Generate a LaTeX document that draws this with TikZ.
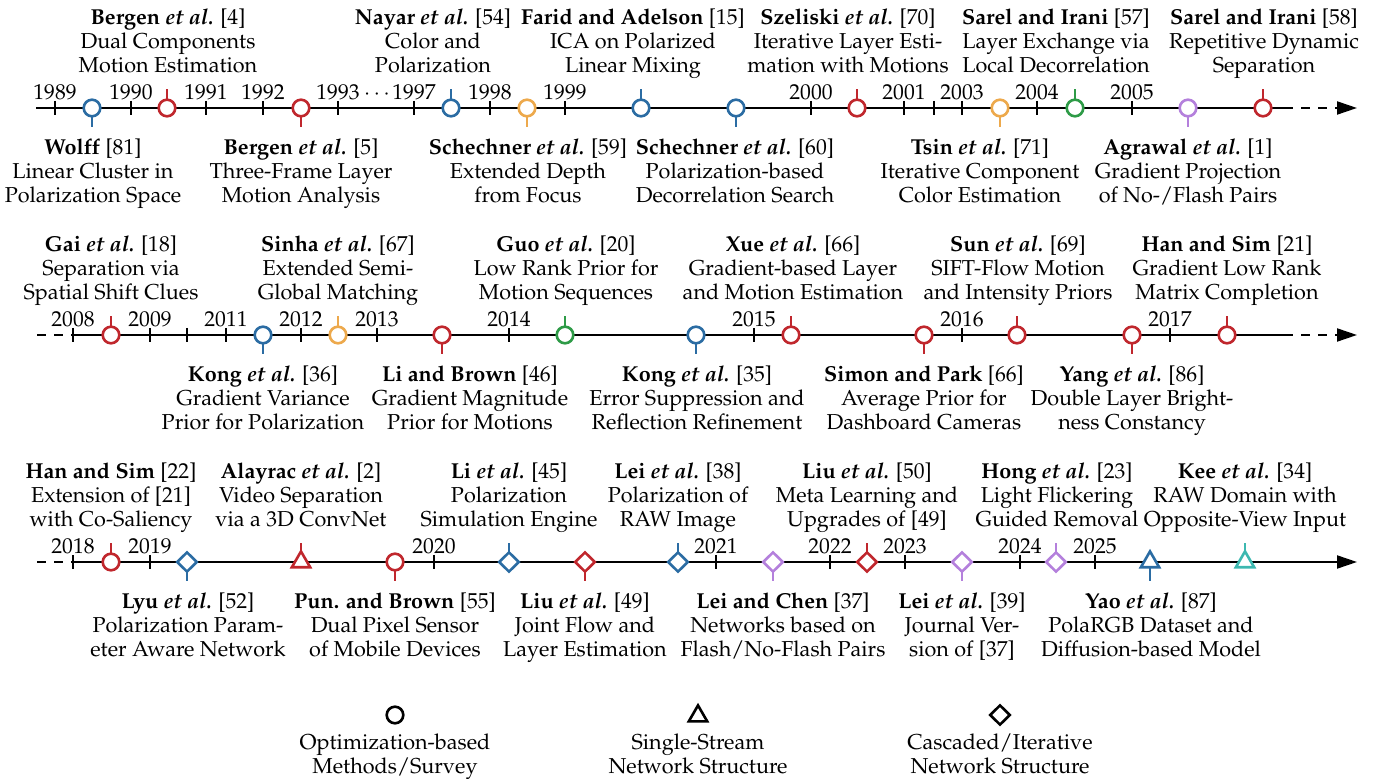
\documentclass[tikz,border=0pt]{standalone}
\usepackage[T1]{fontenc}
\renewcommand{\rmdefault}{ppl}
\usetikzlibrary{shapes.geometric,arrows.meta}
\definecolor{cblue}{HTML}{2B6CA3}
\definecolor{cred}{HTML}{C0272D}
\definecolor{corange}{HTML}{EDA94C}
\definecolor{cgreen}{HTML}{2E9B47}
\definecolor{cpurple}{HTML}{B480DC}
\definecolor{cteal}{HTML}{3DB8B0}
\newcommand{\descfont}{\fontsize{10.8}{12.1}\selectfont}
\newcommand{\fl}{\rule{0pt}{8.5pt}}
\newcommand{\ea}{\textit{et al.}}
\tikzset{
  axisline/.style={line width=1pt},
  yeartick/.style={line width=1pt},
  mk/.style={draw=#1, line width=1.3pt, fill=white, inner sep=0pt, outer sep=0pt},
  circmk/.style={mk=#1, circle, minimum size=8.3pt},
  diamk/.style={mk=#1, diamond, minimum width=9.8pt, minimum height=9.6pt},
  trimk/.style={mk=#1, regular polygon, regular polygon sides=3, minimum size=10.6pt},
  stem/.style={draw=#1, line width=1.3pt},
  yr/.style={anchor=base, inner sep=0pt, font=\descfont},
  desc/.style={align=center, inner sep=0pt, anchor=north, font=\descfont},
}
\newcommand{\evup}[4]{\node[#3=#4] (#1) at (#2) {};
  \draw[stem=#4] (#1.north) -- ([yshift=9.5pt]#1.center);}
\newcommand{\evdn}[4]{\node[#3=#4] (#1) at (#2) {};
  \draw[stem=#4] (#1.south) -- ([yshift=-9.5pt]#1.center);}
\newcommand{\ytick}[3]{\draw[yeartick] (#1,#2-7) -- (#1,#2+7);
  \node[yr] (y#3) at (#1,#2-8) {#3};}
\begin{document}
\begin{tikzpicture}[x=0.5pt,y=-0.5pt]
\path[use as bounding box] (0,0) rectangle (1375,779);
% ---------------- Row 1 ----------------
\draw[axisline] (36,108) -- (1284,108);
\draw[axisline, dash pattern=on 4.5pt off 4pt, -{Triangle[length=10pt,width=6.5pt]}] (1284,108) -- (1357,108);
\ytick{55}{108}{1989}
\ytick{131}{108}{1990}
\ytick{206}{108}{1991}
\ytick{263}{108}{1992}
\ytick{338}{108}{1993}
\ytick{414}{108}{1997}
\node[yr] (dots) at (377,100) {$\cdots$};
\ytick{490}{108}{1998}
\ytick{565}{108}{1999}
\ytick{811}{108}{2000}
\ytick{904}{108}{2001}
\draw[yeartick] (934,101) -- (934,115);
\ytick{962}{108}{2003}
\ytick{1037}{108}{2004}
\ytick{1132}{108}{2005}
\evdn{wolff}{92,108}{circmk}{cblue}
\evup{bergenA}{167,108}{circmk}{cred}
\evdn{bergenB}{301,108}{circmk}{cred}
\evup{nayar}{451,108}{circmk}{cblue}
\evdn{schechA}{527,108}{circmk}{corange}
\evup{farid}{641,108}{circmk}{cblue}
\evdn{schechB}{736,108}{circmk}{cblue}
\evup{szeliski}{857,108}{circmk}{cred}
\evdn{tsin}{1000,108}{circmk}{corange}
\evup{sarelA}{1075,108}{circmk}{cgreen}
\evdn{agrawal}{1188,108}{circmk}{cpurple}
\evup{sarelB}{1263,108}{circmk}{cred}
\node[desc] (t-bergenA) at (168,7) {\fl\textbf{Bergen \ea} [4]\\Dual Components\\Motion Estimation};
\node[desc] (t-nayar) at (433,7) {\fl\textbf{Nayar \ea} [54]\\Color and\\Polarization};
\node[desc] (t-farid) at (633,7) {\fl\textbf{Farid and Adelson} [15]\\ICA on Polarized\\Linear Mixing};
\node[desc] (t-szeliski) at (848,7) {\fl\textbf{Szeliski \ea} [70]\\Iterative Layer Esti-\\mation with Motions};
\node[desc] (t-sarelA) at (1056,7) {\fl\textbf{Sarel and Irani} [57]\\Layer Exchange via\\Local Decorrelation};
\node[desc] (t-sarelB) at (1264,7) {\fl\textbf{Sarel and Irani} [58]\\Repetitive Dynamic\\Separation};
\node[desc] (t-wolff) at (93,137) {\fl\textbf{Wolff} [81]\\Linear Cluster in\\Polarization Space};
\node[desc] (t-bergenB) at (301,137) {\fl\textbf{Bergen \ea} [5]\\Three-Frame Layer\\Motion Analysis};
\node[desc] (t-schechA) at (528,137) {\fl\textbf{Schechner \ea} [59]\\Extended Depth\\from Focus};
\node[desc] (t-schechB) at (735,137) {\fl\textbf{Schechner \ea} [60]\\Polarization-based\\Decorrelation Search};
\node[desc] (t-tsin) at (980,137) {\fl\textbf{Tsin \ea} [71]\\Iterative Component\\Color Estimation};
\node[desc] (t-agrawal) at (1188,137) {\fl\textbf{Agrawal \ea} [1]\\Gradient Projection\\of No-/Flash Pairs};
% ---------------- Row 2 ----------------
\draw[axisline, dash pattern=on 4.5pt off 4pt] (37,335) -- (73,335);
\draw[axisline] (73,335) -- (1284,335);
\draw[axisline, dash pattern=on 4.5pt off 4pt, -{Triangle[length=10pt,width=6.5pt]}] (1284,335) -- (1357,335);
\ytick{73}{335}{2008}
\ytick{150}{335}{2009}
\draw[yeartick] (187,328) -- (187,342);
\ytick{226}{335}{2011}
\ytick{301}{335}{2012}
\ytick{377}{335}{2013}
\ytick{509}{335}{2014}
\ytick{754}{335}{2015}
\ytick{962}{335}{2016}
\ytick{1170}{335}{2017}
\evup{gai}{111,335}{circmk}{cred}
\evdn{kongA}{263,335}{circmk}{cblue}
\evup{sinha}{338,335}{circmk}{corange}
\evdn{librown}{442,335}{circmk}{cred}
\evup{guo}{565,335}{circmk}{cgreen}
\evdn{kongB}{696,335}{circmk}{cblue}
\evup{xue}{791,335}{circmk}{cred}
\evdn{simon}{924,335}{circmk}{cred}
\evup{sun}{1017,335}{circmk}{cred}
\evdn{yang}{1132,335}{circmk}{cred}
\evup{hanA}{1227,335}{circmk}{cred}
\node[desc] (t-gai) at (111,234) {\fl\textbf{Gai \ea} [18]\\Separation via\\Spatial Shift Clues};
\node[desc] (t-sinha) at (338,234) {\fl\textbf{Sinha \ea} [67]\\Extended Semi-\\Global Matching};
\node[desc] (t-guo) at (566,234) {\fl\textbf{Guo \ea} [20]\\Low Rank Prior for\\Motion Sequences};
\node[desc] (t-xue) at (793,234) {\fl\textbf{Xue \ea} [66]\\Gradient-based Layer\\and Motion Estimation};
\node[desc] (t-sun) at (1018,234) {\fl\textbf{Sun \ea} [69]\\SIFT-Flow Motion\\and Intensity Priors};
\node[desc] (t-hanA) at (1227,234) {\fl\textbf{Han and Sim} [21]\\Gradient Low Rank\\Matrix Completion};
\node[desc] (t-kongA) at (263,364) {\fl\textbf{Kong \ea} [36]\\Gradient Variance\\Prior for Polarization};
\node[desc] (t-librown) at (470,364) {\fl\textbf{Li and Brown} [46]\\Gradient Magnitude\\Prior for Motions};
\node[desc] (t-kongB) at (697,364) {\fl\textbf{Kong \ea} [35]\\Error Suppression and\\Reflection Refinement};
\node[desc] (t-simon) at (924,364) {\fl\textbf{Simon and Park} [66]\\Average Prior for\\Dashboard Cameras};
\node[desc] (t-yang) at (1132,364) {\fl\textbf{Yang \ea} [86]\\Double Layer Bright-\\ness Constancy};
% ---------------- Row 3 ----------------
\draw[axisline, dash pattern=on 4.5pt off 4pt] (37,562) -- (73,562);
\draw[axisline, -{Triangle[length=10pt,width=6.5pt]}] (73,562) -- (1357,562);
\ytick{73}{562}{2018}
\ytick{150}{562}{2019}
\ytick{434}{562}{2020}
\ytick{716}{562}{2021}
\ytick{830}{562}{2022}
\ytick{905}{562}{2023}
\ytick{1020}{562}{2024}
\ytick{1095}{562}{2025}
\evup{hanB}{111,562}{circmk}{cred}
\evdn{lyu}{187,562}{diamk}{cblue}
\evup{alayrac}{301,562}{trimk}{cred}
\evdn{pun}{395,562}{circmk}{cred}
\evup{liA}{509,562}{diamk}{cblue}
\evdn{liuA}{585,562}{diamk}{cred}
\evup{leiA}{678,562}{diamk}{cblue}
\evdn{leichen}{773,562}{diamk}{cpurple}
\evup{liuB}{867,562}{diamk}{cred}
\evdn{leiB}{962,562}{diamk}{cpurple}
\evup{hong}{1056,562}{diamk}{cpurple}
\evdn{yao}{1150,562}{trimk}{cblue}
\evup{kee}{1245,562}{trimk}{cteal}
\node[desc] (t-hanB) at (111,461) {\fl\textbf{Han and Sim} [22]\\Extension of [21]\\with Co-Saliency};
\node[desc] (t-alayrac) at (301,461) {\fl\textbf{Alayrac \ea} [2]\\Video Separation\\via a 3D ConvNet};
\node[desc] (t-liA) at (509,461) {\fl\textbf{Li \ea} [45]\\Polarization\\Simulation Engine};
\node[desc] (t-leiA) at (678,461) {\fl\textbf{Lei \ea} [38]\\Polarization of\\RAW Image};
\node[desc] (t-liuB) at (867,461) {\fl\textbf{Liu \ea} [50]\\Meta Learning and\\Upgrades of [49]};
\node[desc] (t-hong) at (1057,461) {\fl\textbf{Hong \ea} [23]\\Light Flickering\\Guided Removal};
\node[desc] (t-kee) at (1245,461) {\fl\textbf{Kee \ea} [34]\\RAW Domain with\\Opposite-View Input};
\node[desc] (t-lyu) at (188,591) {\fl\textbf{Lyu \ea} [52]\\Polarization Param-\\eter Aware Network};
\node[desc] (t-pun) at (395,591) {\fl\textbf{Pun. and Brown} [55]\\Dual Pixel Sensor\\of Mobile Devices};
\node[desc] (t-liuA) at (585,591) {\fl\textbf{Liu \ea} [49]\\Joint Flow and\\Layer Estimation};
\node[desc] (t-leichen) at (783,591) {\fl\textbf{Lei and Chen} [37]\\Networks based on\\Flash/No-Flash Pairs};
\node[desc] (t-leiB) at (962,591) {\fl\textbf{Lei \ea} [39]\\Journal Ver-\\sion of [37]};
\node[desc] (t-yao) at (1151,591) {\fl\textbf{Yao \ea} [87]\\PolaRGB Dataset and\\Diffusion-based Model};
% ---------------- Legend ----------------
\node[circmk=black] (lg-circ) at (395,715) {};
\node[trimk=black] (lg-tri) at (698,716) {};
\node[diamk=black] (lg-dia) at (1000,715) {};
\node[desc] (lg-circ-t) at (395,732) {\fl Optimization-based\\Methods/Survey};
\node[desc] (lg-tri-t) at (698,732) {\fl Single-Stream\\Network Structure};
\node[desc] (lg-dia-t) at (1000,732) {\fl Cascaded/Iterative\\Network Structure};
\end{tikzpicture}
\end{document}
